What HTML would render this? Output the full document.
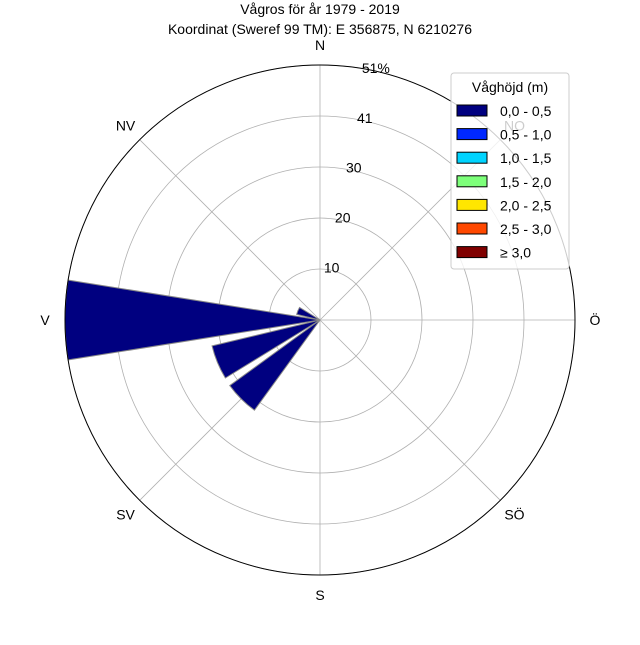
<!DOCTYPE html>
<html><head><meta charset="utf-8"><style>
body{margin:0;background:#fff}
svg text{font-family:"Liberation Sans",sans-serif;fill:#000}
</style></head><body>
<svg width="640" height="640" viewBox="0 0 640 640">
<text x="320" y="14" font-size="14" text-anchor="middle">Vågros för år 1979 - 2019</text>
<text x="320" y="34" font-size="14" text-anchor="middle">Koordinat (Sweref 99 TM): E 356875, N 6210276</text>
<g id="grid"></g>
<g id="bars"></g>
<circle cx="320" cy="320" r="255" fill="none" stroke="#000" stroke-width="1"/>
<g id="labels" font-size="14"></g>
<g id="rlabels" font-size="14"></g>
<g>
<rect x="451" y="73" width="118" height="196" rx="3" fill="#fff" fill-opacity="0.8" stroke="#ccc"/>
<text x="510" y="92" font-size="14" text-anchor="middle">Våghöjd (m)</text>
<g id="legend"></g>
</g>
</svg>
<script>
const directions=["N","NNO","NO","ONO","Ö","OSO","SÖ","SSO","S","SSV","SV","VSV","V","VNV","NV","NNV"];
const freq0005=[0,0,0,0,0,0,0,0,0,0,22.3,22.2,51,4.8,0,0];
const rTicks=[10.2,20.4,30.6,40.8,51];
const rTickLabels=["10","20","30","41","51%"];
const dirLabels=["N","NO","Ö","SÖ","S","SV","V","NV"];
const legendLabels=["0,0 - 0,5","0,5 - 1,0","1,0 - 1,5","1,5 - 2,0","2,0 - 2,5","2,5 - 3,0","≥ 3,0"];
const legendColors=["#000080","#0028ff","#00d4ff","#7dff7a","#ffe600","#ff4800","#800000"];
const CX=320,CY=320,R=255,RMAX=51;
const ns="http://www.w3.org/2000/svg";
function rs(v){return v/RMAX*R;}
function pt(deg,r){const a=deg*Math.PI/180;return [CX+r*Math.sin(a),CY-r*Math.cos(a)];}
function mk(t,at,parent){const e=document.createElementNS(ns,t);for(const k in at)e.setAttribute(k,at[k]);document.getElementById(parent).appendChild(e);return e;}
rTicks.forEach((t,i)=>{const c=mk("circle",{cx:CX,cy:CY,r:rs(t),fill:"none",stroke:"#b0b0b0","stroke-width":0.8},"grid");

});
for(let i=0;i<8;i++){const p=pt(i*45,R);const l=mk("line",{x1:CX,y1:CY,x2:p[0],y2:p[1],stroke:"#b0b0b0","stroke-width":0.8},"grid");

}
const w=18;
freq0005.forEach((v,i)=>{if(v<=0)return;const c=i*22.5,r=rs(v);const a=pt(c-w/2,r),b=pt(c+w/2,r);
const p=mk("path",{d:`M${CX},${CY}L${a[0]},${a[1]}A${r},${r} 0 0 1 ${b[0]},${b[1]}Z`,fill:"#000080",stroke:"#888","stroke-width":1},"bars");

});
dirLabels.forEach((d,i)=>{const p=pt(i*45,R+20);const t=mk("text",{x:p[0],y:p[1]+5,"text-anchor":"middle",fill:d==="NO"?"#999":"#000"},"labels");t.textContent=d;

});
rTicks.forEach((v,i)=>{const p=pt(12.5,rs(v)+3);const t=mk("text",{x:p[0],y:p[1]+5,"text-anchor":"middle"},"rlabels");t.textContent=rTickLabels[i];

});
legendLabels.forEach((l,i)=>{const y=111+i*23.6;
const r=mk("rect",{x:457,y:y-6,width:30,height:11,fill:legendColors[i],stroke:"#000","stroke-width":1},"legend");


const t=mk("text",{x:500,y:y+5,"font-size":14},"legend");t.textContent=l;

});
</script>
</body></html>
